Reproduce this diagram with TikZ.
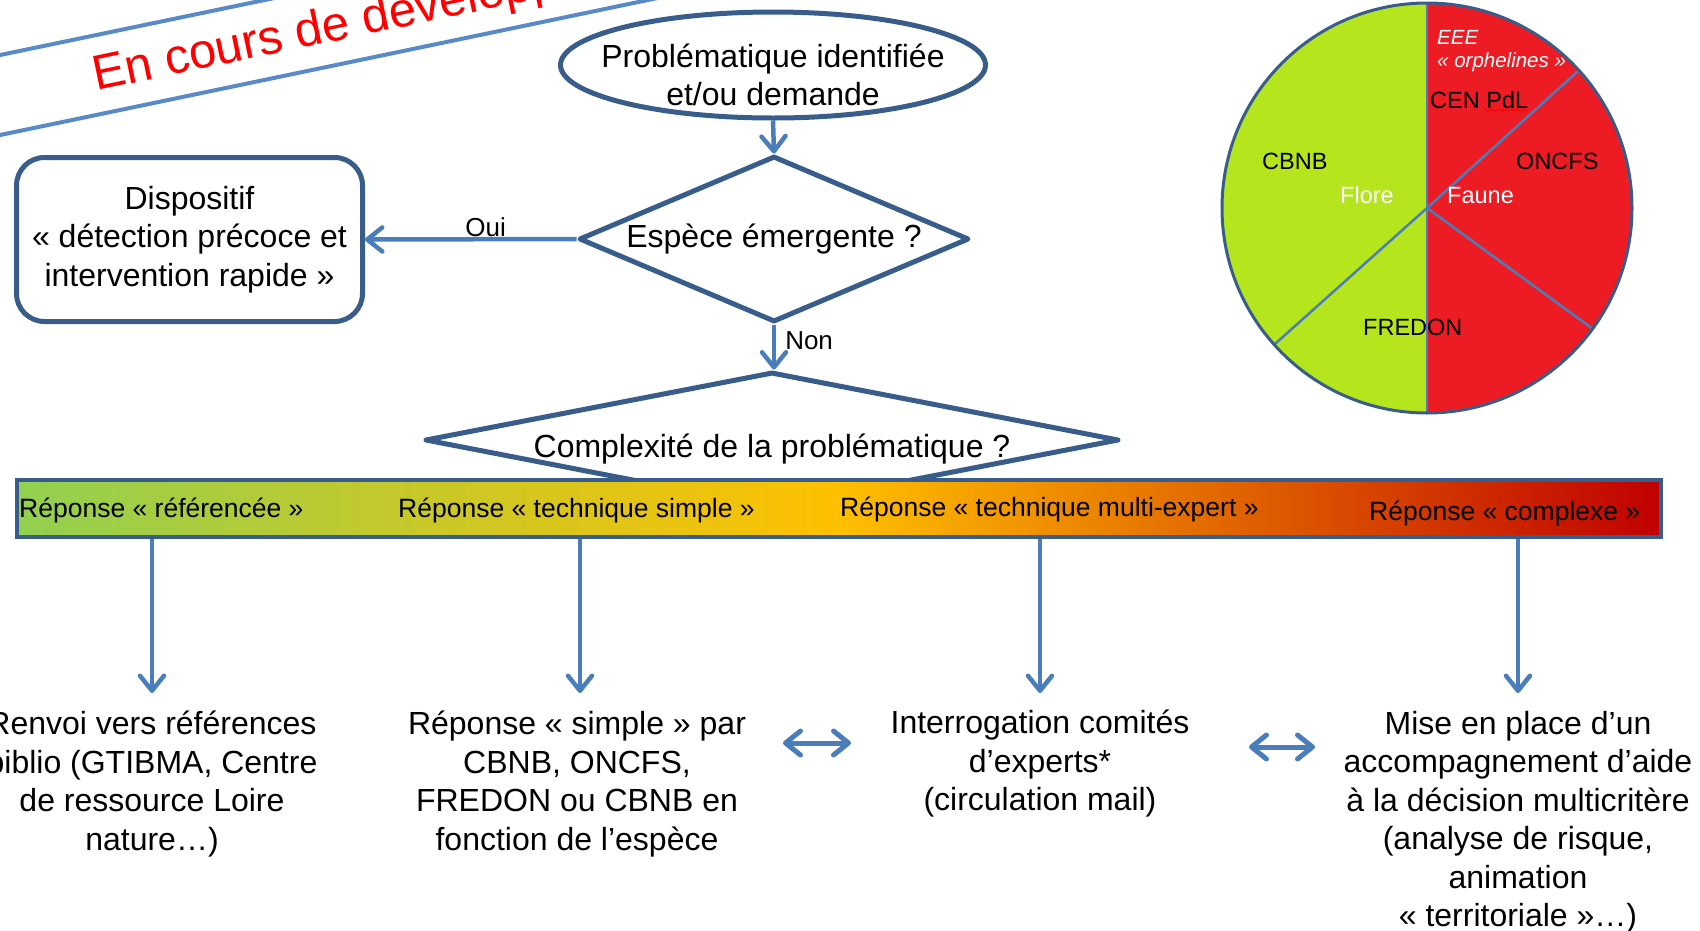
\documentclass[tikz,border=0pt]{standalone}
\usepackage{fontspec}
\setmainfont{Liberation Sans}
\usetikzlibrary{shapes.geometric,arrows.meta,decorations.pathmorphing}
\definecolor{outl}{RGB}{56,93,138}
\definecolor{arrc}{RGB}{74,126,187}
\definecolor{bgreen}{RGB}{146,208,80}
\definecolor{bgold}{RGB}{255,192,0}
\definecolor{bred}{RGB}{192,0,0}
\definecolor{pgreen}{RGB}{181,230,29}
\definecolor{pred}{RGB}{237,28,36}
\definecolor{bannerc}{RGB}{88,138,200}
\begin{document}
\begin{tikzpicture}[x=1pt,y=-1pt,
  mainfont/.style={font=\fontsize{32}{38.5}\selectfont},
  shapeline/.style={draw=outl, line width=5pt, line join=round},
  barb/.tip={Straight Barb[length=15pt,width=24pt,round]},
  arr/.style={draw=arrc, line width=4.5pt, -barb},
  darr/.style={draw=arrc, line width=5pt, barb-barb},
  bartext/.style={font=\fontsize{26.5}{30}\selectfont, anchor=west, inner sep=0pt},
  pietext/.style={font=\fontsize{23.5}{26}\selectfont, anchor=west, inner sep=0pt},
  pieital/.style={font=\fontsize{20.5}{24}\selectfont\itshape, anchor=west, inner sep=0pt, text=white},
  bottomtext/.style={font=\fontsize{32}{38.5}\selectfont, align=center, inner sep=0pt},
  labelfont/.style={font=\fontsize{26}{30}\selectfont},
  pieline/.style={draw=arrc, line width=2.5pt},
  bannerline/.style={draw=bannerc, line width=4pt}]
\useasboundingbox (0,0) rectangle (1700,930);
\begin{scope}
\clip (0,0) rectangle (1700,930);
% banner
\draw[bannerline] (-20,139.2) -- (720,-15);
\draw[bannerline] (-20,59.2) -- (320,-11.5);
\node[rotate=11.8, anchor=base west, inner sep=0pt, text=red, font=\fontsize{49}{55}\selectfont] (wm) at (96,91) {En cours de développement};
% flowchart
\node[ellipse, shapeline, minimum width=425pt, minimum height=106pt, inner sep=0pt] (e1) at (773,65) {};
\node[mainfont, align=center, inner sep=0pt] (e1t) at (773,75) {Problématique identifiée\\et/ou demande};
\node[diamond, shapeline, shape aspect=2.37, minimum width=390pt, minimum height=166pt, inner sep=0pt, mainfont] (d1) at (774,239) {Espèce émergente ?};
\node[draw=outl, line width=5pt, rounded corners=28pt, minimum width=346pt, minimum height=164pt, inner sep=0pt, align=center, mainfont] (box) at (189.5,239.5) {Dispositif\\« détection précoce et\\intervention rapide »};
\node[diamond, shapeline, fill=white, shape aspect=5.12, minimum width=694pt, minimum height=136pt, inner sep=0pt, mainfont, text height=34pt, text depth=0pt] (d2) at (772,440) {Complexité de la problématique ?};
\draw[arr] (e1.south) -- (d1.north);
\draw[arr] (d1.west) -- node[pos=0.43, anchor=base, yshift=3pt, inner sep=0pt, labelfont] (oui) {Oui} (box.east);
\draw[arr] (d1.south) -- node[pos=0.36, anchor=west, xshift=9pt, inner sep=0pt, labelfont] (non) {Non} (d1.south |- d2.north);
% bar
\node[draw=outl, line width=4pt, minimum width=1644pt, minimum height=57pt, inner sep=0pt, left color=bgreen, right color=bred, middle color=bgold] (bar) at (839,508.5) {};
\node[bartext] (r1) at (19,510) {Réponse « référencée »};
\node[bartext] (r2) at (398,510) {Réponse « technique simple »};
\node[bartext] (r3) at (840,509) {Réponse « technique multi-expert »};
\node[bartext] (r4) at (1369,513) {Réponse « complexe »};
% bottom texts
\node[bottomtext] (t1) at (152,784) {Renvoi vers références\\biblio (GTIBMA, Centre\\de ressource Loire\\nature…)};
\node[bottomtext] (t2) at (577,784) {Réponse « simple » par\\CBNB, ONCFS,\\FREDON ou CBNB en\\fonction de l’espèce};
\node[bottomtext] (t3) at (1040,764) {Interrogation comités\\d’experts*\\(circulation mail)};
\node[bottomtext] (t4) at (1518,822) {Mise en place d’un\\accompagnement d’aide\\à la décision multicritère\\(analyse de risque,\\animation\\« territoriale »…)};
\coordinate (a1) at (152,693);
\coordinate (a2) at (580,693);
\coordinate (a3) at (1040,693);
\coordinate (a4) at (1518,693);
\draw[arr] (bar.south -| a1) -- (a1);
\draw[arr] (bar.south -| a2) -- (a2);
\draw[arr] (bar.south -| a3) -- (a3);
\draw[arr] (bar.south -| a4) -- (a4);
\coordinate (h1a) at (783,743);
\coordinate (h1b) at (851,743);
\coordinate (h2a) at (1249,747);
\coordinate (h2b) at (1315,747);
\draw[darr] (h1a) -- (h1b);
\draw[darr] (h2a) -- (h2b);
% pie
\coordinate (pc) at (1427,208);
\fill[pgreen] (1427,3) arc[start angle=-90, end angle=-270, radius=205] -- cycle;
\fill[pred] (1427,3) arc[start angle=-90, end angle=90, radius=205] -- cycle;
\draw[pieline] (1427,3) -- (1427,413);
\draw[pieline] (pc) -- ++(-42.2:205);
\draw[pieline] (pc) -- ++(36.1:205);
\draw[pieline] (pc) -- ++(138.2:205);
\draw[draw=outl, line width=3pt] (pc) circle[radius=205];
\node[pieital] (eee) at (1437,37) {EEE};
\node[pieital] (orph) at (1437,62) {« orphelines »};
\node[pietext] (cen) at (1430,100) {CEN PdL};
\draw[red, line width=0.8pt, decorate, decoration={snake, amplitude=1.2pt, segment length=3.5pt}] (1485,110) -- (1528,110);
\node[pietext] (cbnb) at (1262,161) {CBNB};
\node[pietext] (oncfs) at (1516,161) {ONCFS};
\node[pietext, text=white] (flore) at (1340,195) {Flore};
\node[pietext, text=white] (faune) at (1447,196) {Faune};
\node[pietext] (fredon) at (1363,327) {FREDON};
\end{scope}
\end{tikzpicture}
\end{document}
